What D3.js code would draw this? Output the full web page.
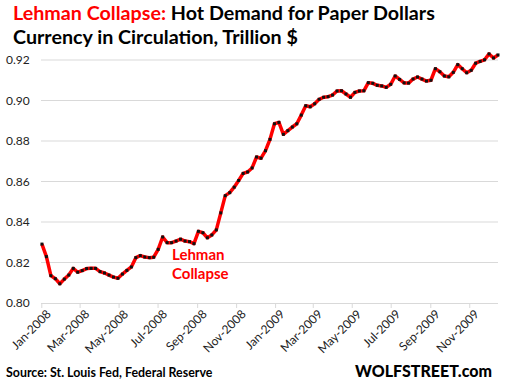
<!DOCTYPE html>
<html lang="en">
<head>
    <meta charset="UTF-8">
    <title>Currency in Circulation</title>
    <script src="https://d3js.org/d3.v7.min.js"></script>
    <style>
        body { margin: 0; background: #fff; }
        svg { display: block; font-family: Lato, "Open Sans", sans-serif; }
    </style>
</head>
<body>
<div id="chart"></div>
<script>
// weekly currency in circulation, trillion $, first week Jan 2, 2008
var startDate = new Date(2008, 0, 2);
var values = [
    0.8291, 0.8229, 0.8135, 0.8120, 0.8095, 0.8118, 0.8138, 0.8171, 0.8152, 0.8160,
    0.8170, 0.8171, 0.8171, 0.8155, 0.8148, 0.8138, 0.8128, 0.8122, 0.8143, 0.8161,
    0.8178, 0.8224, 0.8234, 0.8227, 0.8224, 0.8226, 0.8265, 0.8326, 0.8298, 0.8298,
    0.8306, 0.8315, 0.8306, 0.8303, 0.8293, 0.8354, 0.8347, 0.8322, 0.8336, 0.8361,
    0.8445, 0.8530, 0.8545, 0.8572, 0.8605, 0.8640, 0.8647, 0.8667, 0.8721, 0.8715,
    0.8752, 0.8808, 0.8885, 0.8892, 0.8833, 0.8851, 0.8869, 0.8885, 0.8928, 0.8974,
    0.8969, 0.8984, 0.9006, 0.9016, 0.9019, 0.9027, 0.9047, 0.9048, 0.9032, 0.9016,
    0.9040, 0.9047, 0.9048, 0.9088, 0.9085, 0.9075, 0.9072, 0.9065, 0.9080, 0.9121,
    0.9104, 0.9087, 0.9086, 0.9106, 0.9116, 0.9106, 0.9096, 0.9100, 0.9157, 0.9142,
    0.9121, 0.9117, 0.9139, 0.9177, 0.9157, 0.9137, 0.9149, 0.9184, 0.9193, 0.9201,
    0.9230, 0.9210, 0.9225
];
var yTicks = [0.80, 0.82, 0.84, 0.86, 0.88, 0.90, 0.92];
var titleRed = "Lehman Collapse:";
var titleBlack = " Hot Demand for Paper Dollars";
var subtitle = "Currency in Circulation, Trillion $";
var noteLines = ["Lehman", "Collapse"];
var source = "Source: St. Louis Fed, Federal Reserve";
var brand = "WOLFSTREET.com";

var data = values.map(function(v, i) {
    return { date: d3.timeDay.offset(startDate, i * 7), value: v };
});

var width = 509, height = 391;
var svg = d3.select("#chart").append("svg")
    .attr("width", width)
    .attr("height", height);

var x = d3.scaleTime()
    .domain([new Date(2008, 0, 1), data[data.length - 1].date])
    .range([41.3, 498]);
var y = d3.scaleLinear()
    .domain([0.80, 0.92])
    .range([303, 60]);

// gridlines
svg.append("g").selectAll("line")
    .data(yTicks.slice(1))
    .enter().append("line")
    .attr("x1", 41).attr("x2", 498)
    .attr("y1", function(d) { return y(d); })
    .attr("y2", function(d) { return y(d); })
    .attr("stroke", "#d9d9d9")
    .attr("stroke-width", 1);

// y labels
svg.append("g").selectAll("text")
    .data(yTicks)
    .enter().append("text")
    .attr("x", 6)
    .attr("y", function(d) { return y(d); })
    .attr("dy", "0.35em")
    .attr("font-size", 12)
    .attr("fill", "#222")
    .text(function(d) { return d3.format(".2f")(d); });

// x axis
var xAxis = d3.axisBottom(x)
    .ticks(d3.timeMonth.every(2))
    .tickFormat(d3.timeFormat("%b-%Y"))
    .tickSize(5)
    .tickSizeOuter(0);

var gx = svg.append("g")
    .attr("transform", "translate(0,303)")
    .call(xAxis);
gx.select(".domain").attr("stroke", "#d9d9d9").attr("d", "M41,0.5H498");
gx.selectAll(".tick line").attr("stroke", "#d9d9d9");
gx.selectAll(".tick text")
    .attr("font-family", "Lato, 'Open Sans', sans-serif")
    .attr("font-size", 12)
    .attr("fill", "#222")
    .attr("text-anchor", "end")
    .attr("transform", "translate(4,6) rotate(-45)")
    .attr("x", 0)
    .attr("y", 0)
    .attr("dy", "0.7em");

// line
var line = d3.line()
    .x(function(d) { return x(d.date); })
    .y(function(d) { return y(d.value); });

svg.append("path")
    .datum(data)
    .attr("fill", "none")
    .attr("stroke", "#ff0000")
    .attr("stroke-width", 3.5)
    .attr("stroke-linejoin", "round")
    .attr("d", line);

svg.append("g").selectAll("rect")
    .data(data)
    .enter().append("rect")
    .attr("x", function(d) { return x(d.date) - 1.5; })
    .attr("y", function(d) { return y(d.value) - 1.5; })
    .attr("width", 3)
    .attr("height", 3)
    .attr("fill", "#111");

// title
var t1 = svg.append("text")
    .attr("x", 13).attr("y", 19.5)
    .attr("font-size", 19.7)
    .attr("font-weight", "bold");
t1.append("tspan").attr("fill", "#ff0000").text(titleRed);
t1.append("tspan").attr("fill", "#000").text(titleBlack);

svg.append("text")
    .attr("x", 13).attr("y", 44)
    .attr("font-size", 19.7)
    .attr("font-weight", "bold")
    .attr("fill", "#000")
    .text(subtitle);

// annotation
svg.append("g").selectAll("text")
    .data(noteLines)
    .enter().append("text")
    .attr("x", 172)
    .attr("y", function(d, i) { return 260 + i * 19; })
    .attr("font-size", 15)
    .attr("font-weight", "bold")
    .attr("fill", "#ff0000")
    .text(function(d) { return d; });

// footer
svg.append("text")
    .attr("x", 6).attr("y", 377)
    .attr("font-size", 12.4)
    .attr("font-weight", "bold")
    .attr("fill", "#000")
    .text(source);

svg.append("text")
    .attr("x", 355).attr("y", 377)
    .attr("font-size", 16)
    .attr("font-weight", 900)
    .attr("fill", "#000")
    .text(brand);
</script>
</body>
</html>
